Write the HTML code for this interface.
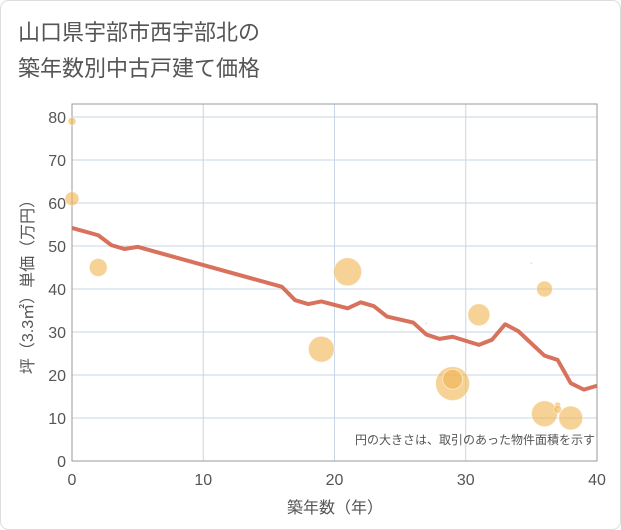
<!DOCTYPE html>
<html><head><meta charset="utf-8"><style>
body{margin:0;background:#fff;}
.wrap{position:relative;width:621px;height:530px;overflow:hidden;}
text{font-family:"Liberation Sans","Noto Sans CJK JP",sans-serif;}
</style></head><body>
<div class="wrap">
<svg id="svg" width="621" height="530" xmlns="http://www.w3.org/2000/svg">
<rect x="0.5" y="0.5" width="620" height="529" rx="8" fill="#fff" stroke="#ddd"/>
<text x="18" y="40" font-size="22" fill="#555">山口県宇部市西宇部北の</text>
<text x="18" y="76" font-size="22" fill="#555">築年数別中古戸建て価格</text>
<g id="grid"></g>
<g id="marks"></g>
<text x="595" y="444" font-size="12" fill="#555" text-anchor="end">円の大きさは、取引のあった物件面積を示す</text>
<text x="335" y="513" font-size="16" fill="#555" text-anchor="middle">築年数（年）</text>
<text transform="translate(33,283) rotate(-90)" font-size="16" fill="#555" text-anchor="middle">坪（3.3㎡）単価（万円）</text>
</svg>
</div>
<script>
const xTicks=[0,10,20,30,40];
const yTicks=[0,10,20,30,40,50,60,70,80];
const lineAges=[0,2,3,4,5,16,17,18,19,21,22,23,24,26,27,28,29,31,32,33,34,36,37,38,39,40];
const lineValues=[54.2,52.5,50.2,49.3,49.8,40.5,37.4,36.5,37.1,35.5,36.9,36.0,33.6,32.2,29.4,28.4,28.9,27.0,28.2,31.8,30.2,24.5,23.5,18.1,16.6,17.5];
const bubbleAges=[0,0,2,19,21,27,29,29,31,35,36,36,37,37,38];
const bubbleValues=[79,61,45,26,44,32,18,19,34,46,40,11,13,12,10];
const bubbleSizes=[4,7,9,13,14,1,17,10,11,1,8,13,3,4,12];
const L=72,R=597,T=104,B=461;
const xs=v=>L+(R-L)*v/40;
const ys=v=>B-(B-117)*v/80;
const NS="http://www.w3.org/2000/svg";
const grid=document.getElementById('grid'),marks=document.getElementById('marks');
function mk(tag,attrs,parent){const e=document.createElementNS(NS,tag);for(const k in attrs)e.setAttribute(k,attrs[k]);parent.appendChild(e);return e;}
xTicks.forEach(t=>{
 const l=mk('line',{x1:xs(t),x2:xs(t),y1:T,y2:B,stroke:'#c8d6e6','stroke-width':1},grid);
 
 
 const tx=mk('text',{x:xs(t),y:B+24,'font-size':16,fill:'#555','text-anchor':'middle'},grid);
 tx.textContent=t;
 
 
});
yTicks.forEach(t=>{
 const l=mk('line',{x1:L,x2:R,y1:ys(t),y2:ys(t),stroke:'#c8d6e6','stroke-width':1},grid);
 
 
 const tx=mk('text',{x:L-6,y:ys(t)+6,'font-size':16,fill:'#555','text-anchor':'end'},grid);
 tx.textContent=t;
 
 
});
const fr=mk('rect',{x:L,y:T,width:R-L,height:B-T,fill:'none',stroke:'#999','stroke-width':1},grid);


bubbleAges.forEach((a,i)=>{
 const c=mk('circle',{cx:xs(a),cy:ys(bubbleValues[i]),r:bubbleSizes[i],fill:'#f0b450','fill-opacity':0.6,stroke:'#fff','stroke-opacity':0.5},marks);
 
 
});
const p=mk('polyline',{points:lineAges.map((a,i)=>xs(a)+','+ys(lineValues[i])).join(' '),fill:'none',stroke:'#d4634a','stroke-width':4,'stroke-linejoin':'round','stroke-opacity':0.9},marks);


</script>
</body></html>
